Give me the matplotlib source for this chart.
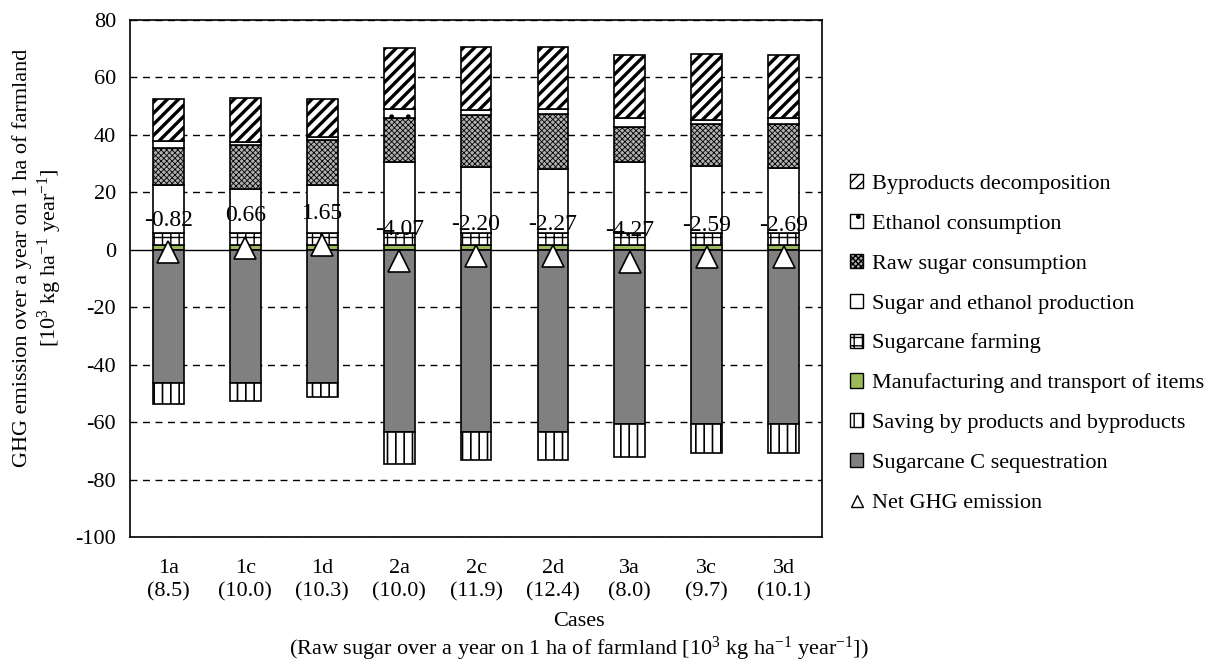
import matplotlib
matplotlib.use('Agg')
import matplotlib.pyplot as plt
from matplotlib.patches import Patch
from matplotlib.lines import Line2D

plt.rcParams['font.family'] = ['Liberation Serif', 'DejaVu Serif']
plt.rcParams['mathtext.fontset'] = 'custom'
plt.rcParams['mathtext.rm'] = 'Liberation Serif'
plt.rcParams['mathtext.it'] = 'Liberation Serif:italic'
plt.rcParams['axes.unicode_minus'] = False
plt.rcParams['font.size'] = 16

cases = ['1a', '1c', '1d', '2a', '2c', '2d', '3a', '3c', '3d']
raw_sugar_yield = ['8.5', '10.0', '10.3', '10.0', '11.9', '12.4', '8.0', '9.7', '10.1']

manufacturing = [1.5, 1.5, 1.5, 1.5, 1.5, 1.5, 1.5, 1.5, 1.5]
farming = [4.3, 4.3, 4.3, 4.3, 4.3, 4.3, 4.3, 4.3, 4.3]
production = [16.7, 15.3, 16.7, 24.7, 23.1, 22.4, 24.7, 23.3, 22.5]
raw_sugar_cons = [12.8, 15.4, 15.7, 15.3, 18.0, 19.0, 12.2, 14.8, 15.6]
ethanol_cons = [2.7, 1.0, 1.2, 3.3, 1.6, 1.9, 3.1, 1.4, 1.9]
byproducts = [14.6, 15.3, 13.2, 21.2, 22.0, 21.4, 21.9, 22.7, 22.0]
sequestration = [-46.3, -46.3, -46.3, -63.3, -63.3, -63.3, -60.7, -60.7, -60.7]
saving = [-7.5, -6.2, -5.0, -11.4, -9.8, -9.8, -11.6, -10.1, -10.1]
net = [-0.82, 0.66, 1.65, -4.07, -2.20, -2.27, -4.27, -2.59, -2.69]

yticks = [-100, -80, -60, -40, -20, 0, 20, 40, 60, 80]

fig = plt.figure(figsize=(12.28, 6.64), dpi=100)
ax = fig.add_axes([0.1059, 0.1913, 0.5635, 0.7786])

x = list(range(len(cases)))
w = 0.4
lw = 1.2

# grid
for yv in yticks:
    if yv == 0:
        continue
    ax.axhline(yv, color='black', lw=1.0, ls=(0, (5, 4)), zorder=0)
ax.axhline(0, color='black', lw=1.0, zorder=1)

def set_hlw(bars, val):
    for b in bars:
        if hasattr(b, 'set_hatch_linewidth'):
            b.set_hatch_linewidth(val)

styles = {
    'manufacturing': dict(color='#9bbb59', hatch=None, hlw=1.0),
    'farming': dict(color='white', hatch='++', hlw=1.0),
    'production': dict(color='white', hatch=None, hlw=1.0),
    'raw': dict(color='#b0b0b0', hatch='xxxxxx', hlw=0.6),
    'ethanol': dict(color='white', hatch='.', hlw=1.0),
    'byproducts': dict(color='white', hatch='///', hlw=2.4),
    'sequestration': dict(color='#808080', hatch=None, hlw=1.0),
    'saving': dict(color='white', hatch='||', hlw=1.2),
}

bottom = [0.0] * len(cases)
pos_series = [('manufacturing', manufacturing), ('farming', farming),
              ('production', production), ('raw', raw_sugar_cons),
              ('ethanol', ethanol_cons), ('byproducts', byproducts)]
for key, vals in pos_series:
    st = styles[key]
    bars = ax.bar(x, vals, w, bottom=bottom, color=st['color'], edgecolor='black',
                  linewidth=lw, hatch=st['hatch'], zorder=2)
    set_hlw(bars, st['hlw'])
    bottom = [b + v for b, v in zip(bottom, vals)]

st = styles['sequestration']
ax.bar(x, sequestration, w, color=st['color'], edgecolor='black', linewidth=lw, zorder=2)
st = styles['saving']
bars = ax.bar(x, saving, w, bottom=sequestration, color=st['color'], edgecolor='black',
              linewidth=lw, hatch=st['hatch'], zorder=2)
set_hlw(bars, st['hlw'])

ax.plot(x, net, ls='none', marker='^', ms=16, mfc='white', mec='black', mew=1.2, zorder=4)
for xi, v in zip(x, net):
    ax.annotate(f'{v:.2f}', (xi, v), xytext=(0, 23), textcoords='offset points',
                ha='center', va='center', fontsize=17, zorder=5)

ax.set_ylim(-100, 80)
ax.set_xlim(-0.5, len(cases) - 0.5)
ax.set_yticks(yticks)
ax.set_yticklabels([str(t) for t in yticks])
ax.set_xticks(x)
ax.set_xticklabels([f'{c}\n({r})' for c, r in zip(cases, raw_sugar_yield)], linespacing=1.25)
ax.tick_params(axis='both', length=0)
ax.tick_params(axis='x', pad=16)
ax.tick_params(axis='y', pad=10)
for s in ax.spines.values():
    s.set_linewidth(1.2)
    s.set_color('black')

fig.text(0.4713, 1 - 621 / 664, 'Cases', ha='center', va='center', fontsize=16)
fig.text(0.4713, 1 - 649 / 664,
         r'(Raw sugar over a year on 1 ha of farmland [10$^{3}$ kg ha$^{-1}$ year$^{-1}$])',
         ha='center', va='center', fontsize=16)
fig.text(38 / 1228, 1 - 258 / 664,
         'GHG emission over a year on 1 ha of farmland\n' +
         r'[10$^{3}$ kg ha$^{-1}$ year$^{-1}$]',
         rotation=90, ha='center', va='center', fontsize=16, multialignment='center',
         linespacing=1.15)

handles = []
labels = []
legend_items = [
    ('Byproducts decomposition', 'byproducts'),
    ('Ethanol consumption', 'ethanol'),
    ('Raw sugar consumption', 'raw'),
    ('Sugar and ethanol production', 'production'),
    ('Sugarcane farming', 'farming'),
    ('Manufacturing and transport of items', 'manufacturing'),
    ('Saving by products and byproducts', 'saving'),
    ('Sugarcane C sequestration', 'sequestration'),
]
for lab, key in legend_items:
    st = styles[key]
    p = Patch(facecolor=st['color'], edgecolor='black', linewidth=1.0, hatch=st['hatch'])
    handles.append(p)
    labels.append(lab)
handles.append(Line2D([], [], ls='none', marker='^', ms=9, mfc='white', mec='black', mew=1.0))
labels.append('Net GHG emission')

leg = fig.legend(handles, labels, loc='upper left', bbox_to_anchor=(850 / 1228, 1 - 174 / 664),
                 frameon=False, fontsize=16, handlelength=0.6, handleheight=0.6,
                 handletextpad=0.4, labelspacing=0.9, borderaxespad=0, borderpad=0)

fig.savefig('out.png', dpi=100, facecolor='white')
